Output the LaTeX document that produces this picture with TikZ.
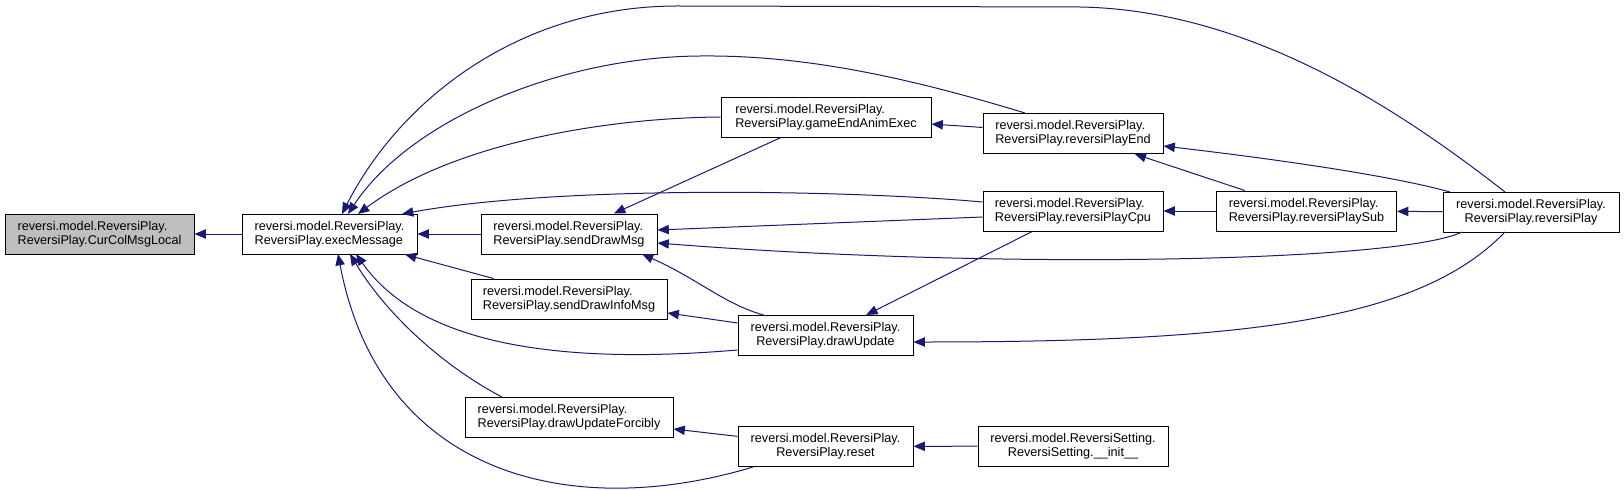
\documentclass[tikz,border=0pt]{standalone}
\usepackage{fontspec}
\setmainfont{Liberation Sans}
\usetikzlibrary{arrows.meta}
\definecolor{edgeblue}{HTML}{191970}
\definecolor{curgray}{HTML}{BFBFBF}
\tikzset{
  fnode/.style={draw=black, line width=0.75pt, rectangle, inner sep=0pt, minimum height=30pt,
    font=\fontsize{9.5}{10.7}\selectfont, fill=white},
  lnode/.style={fnode, align=left},
  cnode/.style={fnode, align=center},
  edge/.style={draw=edgeblue, line width=0.75pt, -{Triangle[length=8.5pt,width=7pt]}},
}
\begin{document}
\begin{tikzpicture}[x=0.75pt, y=-0.75pt]
\useasboundingbox (0,0) rectangle (1624,489);
% nodes
\node[lnode, fill=curgray, minimum width=141.75pt] (cur) at (99.5,234) {reversi.model.ReversiPlay.\\ReversiPlay.CurColMsgLocal};
\node[lnode, minimum width=131.25pt] (exec) at (329.5,234) {reversi.model.ReversiPlay.\\ReversiPlay.execMessage};
\node[lnode, minimum width=157.5pt] (gae) at (826,117) {reversi.model.ReversiPlay.\\ReversiPlay.gameEndAnimExec};
\node[lnode, minimum width=132pt] (sdm) at (569,234) {reversi.model.ReversiPlay.\\ReversiPlay.sendDrawMsg};
\node[lnode, minimum width=147pt] (sdim) at (569,299) {reversi.model.ReversiPlay.\\ReversiPlay.sendDrawInfoMsg};
\node[lnode, minimum width=156pt] (duf) at (569,417) {reversi.model.ReversiPlay.\\ReversiPlay.drawUpdateForcibly};
\node[cnode, minimum width=131.25pt] (du) at (825.5,335.5) {reversi.model.ReversiPlay.\\ReversiPlay.drawUpdate};
\node[cnode, minimum width=131.25pt] (reset) at (825.5,446.5) {reversi.model.ReversiPlay.\\ReversiPlay.reset};
\node[lnode, minimum width=135pt] (end) at (1073,133.5) {reversi.model.ReversiPlay.\\ReversiPlay.reversiPlayEnd};
\node[lnode, minimum width=135pt] (cpu) at (1073,211) {reversi.model.ReversiPlay.\\ReversiPlay.reversiPlayCpu};
\node[cnode, minimum width=142.5pt] (init) at (1073,446) {reversi.model.ReversiSetting.\\ReversiSetting.\_\_init\_\_};
\node[lnode, minimum width=135pt] (sub) at (1306.5,211) {reversi.model.ReversiPlay.\\ReversiPlay.reversiPlaySub};
\node[cnode, minimum width=132pt] (rp) at (1531,212) {reversi.model.ReversiPlay.\\ReversiPlay.reversiPlay};
% straight edges
\draw[edge] (exec) -- (cur);
\draw[edge] (sdm) -- (exec);
\draw[edge] (sdim) -- (exec);
\draw[edge] (gae) -- (sdm);
\draw[edge] (end) -- (gae);
\draw[edge] (du) -- (sdim);
\draw[edge] (cpu) -- (du);
\draw[edge] (sub) -- (end);
\draw[edge] (sub) -- (cpu);
\draw[edge] (rp) -- (sub);
\draw[edge] (init) -- (reset);
\draw[edge] (reset) -- (duf);
% curved edges into execMessage
\draw[edge] ([shift={(-26,-20)}]rp.center) .. controls (1400,110) and (1250,10) .. (1080,7)
  -- (680,6) .. controls (520,5) and (400,100) .. ([shift={(12.5,-20)}]exec.center);
\draw[edge] ([shift={(-48,-20.5)}]end.center) .. controls (900,75) and (800,55) .. (700,56)
  .. controls (560,57) and (410,120) .. ([shift={(18.5,-20)}]exec.center);
\draw[edge] (gae.west) .. controls (600,118) and (450,145) .. ([shift={(28.5,-20)}]exec.center);
\draw[edge] ([shift={(0,-9)}]cpu.west) .. controls (850,190) and (560,185) .. ([shift={(72.5,-20)}]exec.center);
\draw[edge] ([shift={(0,14.5)}]du.west) .. controls (560,365) and (420,345) .. ([shift={(26.5,20)}]exec.center);
\draw[edge] ([shift={(-67,-20)}]duf.center) .. controls (450,370) and (390,320) .. ([shift={(20.5,20)}]exec.center);
\draw[edge] ([shift={(-72.5,20.5)}]reset.center) .. controls (570,522) and (380,475) .. ([shift={(8.5,20)}]exec.center);
% other curved edges
\draw[edge] ([shift={(0,6)}]cpu.west) -- ([shift={(0,-4)}]sdm.east);
\draw[edge] ([shift={(-69,20)}]rp.center) .. controls (1400,262) and (1000,270) .. ([shift={(0,9)}]sdm.east);
\draw[edge] ([shift={(-58.5,-19.5)}]du.center) .. controls (725,305) and (700,280) .. ([shift={(73,20)}]sdm.center);
\draw[edge] ([shift={(-26,20)}]rp.center) .. controls (1420,320) and (1250,342) .. ([shift={(0,6.5)}]du.east);
\draw[edge] ([shift={(-81,-20)}]rp.center) .. controls (1400,178) and (1300,162) .. ([shift={(0,12.5)}]end.east);
\end{tikzpicture}
\end{document}
